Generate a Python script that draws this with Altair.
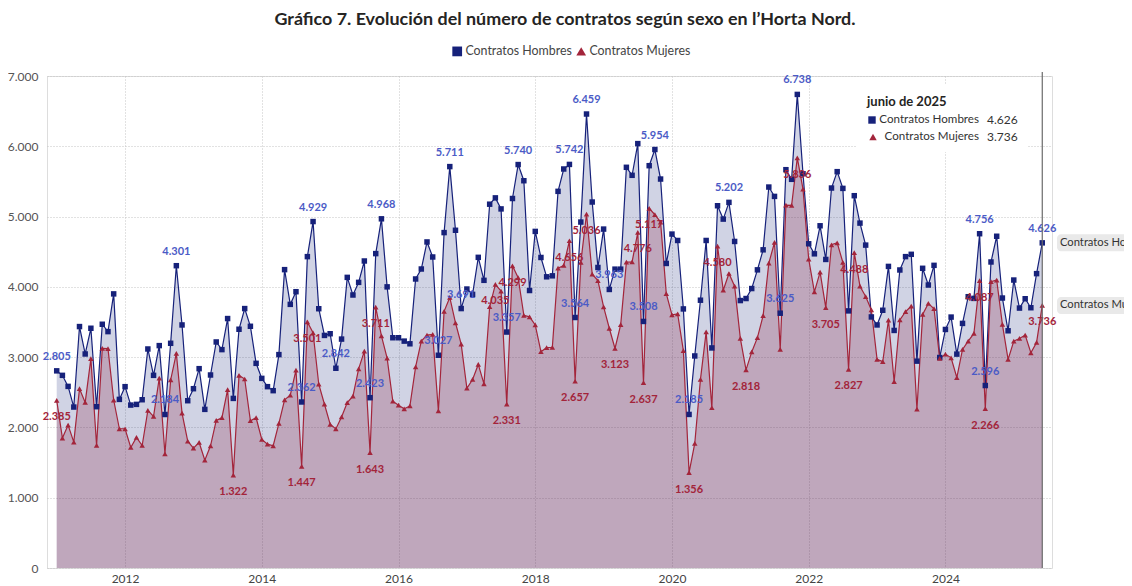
import altair as alt
import pandas as pd

# ---------------- data (monthly, enero 2011 - junio 2025) ----------------
anio_inicio = 2011
meses = ["enero", "febrero", "marzo", "abril", "mayo", "junio", "julio",
         "agosto", "septiembre", "octubre", "noviembre", "diciembre"]

hombres = [
    2805, 2741, 2584, 2290, 3435, 3045, 3411, 2295, 3468, 3363, 3900, 2399,  # 2011
    2580, 2318, 2328, 2394, 3116, 2741, 3164, 2184, 3197, 4301, 3458, 2380,  # 2012
    2551, 2836, 2257, 2746, 3216, 3107, 3549, 2413, 3397, 3691, 3439, 2912,  # 2013
    2698, 2580, 2523, 3036, 4245, 3751, 3931, 2362, 4430, 4929, 3689, 3309,  # 2014
    3333, 2842, 3257, 4135, 3884, 4064, 4368, 2423, 4473, 4968, 4000, 3276,  # 2015
    3276, 3228, 3190, 4112, 4254, 4639, 4425, 3027, 4772, 5711, 4805, 3691,  # 2016
    3969, 3893, 4420, 4093, 5176, 5266, 5109, 3357, 5257, 5740, 5510, 3948,  # 2017
    4789, 4418, 4143, 4157, 5359, 5677, 5742, 3564, 4922, 6459, 5207, 4276,  # 2018
    4822, 3963, 4252, 4252, 5701, 5587, 6038, 3508, 5724, 5954, 5534, 4333,  # 2019
    4751, 4660, 3686, 2185, 3017, 3810, 4660, 3131, 5154, 4964, 5202, 4646,  # 2020
    3805, 3834, 3976, 4242, 4527, 5420, 5287, 3625, 5667, 5530, 6738, 5610,  # 2021
    4613, 4470, 4869, 4390, 5406, 5639, 5401, 3658, 5297, 4907, 4594, 3572,  # 2022
    3458, 3667, 4291, 3380, 4240, 4430, 4463, 2943, 4264, 4026, 4306, 2995,  # 2023
    3394, 3570, 3043, 3480, 3860, 3836, 4756, 2596, 4354, 4720, 3841, 3375,  # 2024
    4097, 3698, 3831, 3703, 4188, 4626,                                      # 2025
]
mujeres = [
    2385, 1848, 2033, 1791, 2551, 2356, 2979, 1743, 3126, 3121, 2390, 1981,
    1981, 1715, 1857, 1743, 2242, 2157, 2703, 1625, 2675, 3055, 2204, 1805,
    1705, 1786, 1534, 1739, 2100, 2138, 2537, 1322, 2741, 2689, 2095, 2138,
    1829, 1762, 1739, 2057, 2392, 2458, 2815, 1447, 3501, 3347, 2615, 2330,
    2045, 1979, 2150, 2354, 2444, 2834, 3086, 1643, 3711, 3304, 2986, 2373,
    2316, 2264, 2306, 2862, 3228, 3314, 3323, 2235, 3651, 3850, 3489, 3185,
    2558, 2682, 2896, 2620, 3717, 4035, 3941, 2331, 4299, 4131, 3595, 3574,
    3458, 3078, 3135, 3140, 4266, 4304, 4656, 2657, 4347, 5036, 4181, 4090,
    3715, 3411, 3123, 3463, 4352, 4356, 4776, 2637, 5117, 5026, 4922, 3905,
    3601, 3615, 3093, 1356, 1772, 2684, 3360, 2280, 4580, 3952, 4190, 4009,
    3268, 2818, 3074, 3278, 3591, 4337, 4632, 3112, 5164, 5159, 5836, 5392,
    4394, 3929, 4209, 3705, 4599, 4627, 4347, 2827, 4488, 4009, 3862, 3672,
    2969, 2936, 3528, 2652, 3530, 3646, 3727, 2259, 3608, 3765, 3689, 2981,
    3043, 2990, 2710, 3109, 3228, 3337, 4087, 2266, 4074, 4097, 3466, 2967,
    3228, 3266, 3314, 3062, 3209, 3736,
]
# months (index from enero 2011) that carry a data label
etiquetas_h = [0, 19, 21, 43, 45, 49, 55, 57, 67, 69, 71, 79, 81, 90, 91, 93,
               97, 103, 105, 111, 118, 127, 130, 162, 163, 173]
etiquetas_m = [0, 31, 43, 44, 55, 56, 77, 79, 80, 90, 91, 93, 98, 102, 103,
               104, 111, 116, 121, 130, 135, 139, 140, 162, 163, 173]
anios_eje = [2012, 2014, 2016, 2018, 2020, 2022, 2024]
series = ["Contratos Hombres", "Contratos Mujeres"]
titulo = "Gráfico 7. Evolución del número de contratos según sexo en l’Horta Nord."

# ---------------- styling ----------------
C_H = "#16217a"
C_M = "#a3253b"
C_H_LAB = "#4b5bc6"
C_M_LAB = "#a3243a"
FONT = "Lato"

W, H = 1005, 492
PAD_L, PAD_T = 39, 68


def fmt(v):
    return f"{v:,}".replace(",", ".")


n = len(hombres)
rows = []
for i in range(n):
    t = anio_inicio + i / 12
    rows.append(dict(t=t, serie=series[0], valor=hombres[i],
                     lab=i in etiquetas_h, txt=fmt(hombres[i])))
    rows.append(dict(t=t, serie=series[1], valor=mujeres[i],
                     lab=i in etiquetas_m, txt=fmt(mujeres[i])))
df = pd.DataFrame(rows)

ult = n - 1
mes_ult = f"{meses[ult % 12]} de {anio_inicio + ult // 12}"
df_last = pd.DataFrame({
    "serie": series,
    "valor": [hombres[ult], mujeres[ult]],
    "txt": [fmt(hombres[ult]), fmt(mujeres[ult])],
    "t": [anio_inicio + ult / 12] * 2,
})

x_scale = alt.Scale(domain=[2010.858, 2025.559], nice=False, zero=False)
y_scale = alt.Scale(domain=[0, 7000], nice=False)

x_axis = alt.Axis(values=anios_eje, format="d", domain=False, ticks=False,
                  grid=True, gridDash=[1, 2], gridColor="#c4c4c4", gridWidth=1,
                  labelFont=FONT, labelFontSize=12, labelColor="#444444",
                  labelPadding=5, title=None)
y_axis = alt.Axis(values=list(range(0, 7001, 1000)),
                  labelExpr="replace(format(datum.value, ','), ',', '.')",
                  domain=False, ticks=False, grid=True, gridDash=[1, 2],
                  gridColor="#c4c4c4", gridWidth=1, labelFont=FONT,
                  labelFontSize=12, labelColor="#555555", labelPadding=9,
                  title=None)

X = alt.X("t:Q", scale=x_scale, axis=x_axis)
Y = alt.Y("valor:Q", scale=y_scale, axis=y_axis)

base = alt.Chart(df)
hom = base.transform_filter(alt.datum.serie == series[0])
muj = base.transform_filter(alt.datum.serie == series[1])

area_h = hom.mark_area(color=C_H, opacity=0.2).encode(x=X, y=Y)
area_m = muj.mark_area(color="#8c1e3e", opacity=0.24).encode(x=X, y=Y)
line_h = hom.mark_line(color=C_H, strokeWidth=1.2).encode(x=X, y=Y)
line_m = muj.mark_line(color=C_M, strokeWidth=1.2).encode(x=X, y=Y)

pts = base.mark_point(filled=True, size=30, opacity=1).encode(
    x=X, y=Y,
    color=alt.Color("serie:N", scale=alt.Scale(domain=series, range=[C_H, C_M]),
                    legend=alt.Legend(orient="none", legendX=404, legendY=-31,
                                      direction="horizontal", title=None,
                                      labelFont=FONT, labelFontSize=12.4,
                                      labelColor="#444444", symbolSize=95,
                                      columnPadding=3, labelOffset=2,
                                      padding=0, symbolStrokeWidth=0)),
    shape=alt.Shape("serie:N", scale=alt.Scale(domain=series,
                                               range=["square", "triangle-up"])),
)

lab_h = hom.transform_filter(alt.datum.lab).mark_text(
    dy=-14, font=FONT, fontSize=11, fontWeight="bold", color=C_H_LAB
).encode(x=X, y=Y, text="txt:N")
lab_m = muj.transform_filter(alt.datum.lab).mark_text(
    dy=17, font=FONT, fontSize=11, fontWeight="bold", color=C_M_LAB
).encode(x=X, y=Y, text="txt:N")

# vertical cursor at the last month
cursor = alt.Chart(df_last.head(1)).mark_rule(color="#6b6b6b", strokeWidth=1.2).encode(
    x=X, y=alt.value(-4), y2=alt.value(H)
)

# tooltip-like card
card_bg = alt.Chart(df_last.head(1)).mark_rect(color="white").encode(
    x=alt.value(810), x2=alt.value(980), y=alt.value(8), y2=alt.value(76)
)
card_title = alt.Chart(pd.DataFrame({"m": [mes_ult]})).mark_text(
    align="left", baseline="middle", font=FONT, fontSize=13, fontWeight="bold",
    color="#252423"
).encode(x=alt.value(820), y=alt.value(26), text="m:N")
card_sym_h = alt.Chart(df_last.head(1)).mark_point(
    shape="square", filled=True, size=55, color=C_H, opacity=1
).encode(x=alt.value(825), y=alt.value(44))
card_sym_m = alt.Chart(df_last.tail(1)).mark_point(
    shape="triangle-up", filled=True, size=55, color=C_M, opacity=1
).encode(x=alt.value(826), y=alt.value(61))
card_name_h = alt.Chart(df_last.head(1)).mark_text(
    align="right", baseline="middle", font=FONT, fontSize=11.6, color="#333333"
).encode(x=alt.value(932), y=alt.value(44), text="serie:N")
card_name_m = alt.Chart(df_last.tail(1)).mark_text(
    align="right", baseline="middle", font=FONT, fontSize=11.6, color="#333333"
).encode(x=alt.value(932), y=alt.value(61), text="serie:N")
card_val_h = alt.Chart(df_last.head(1)).mark_text(
    align="left", baseline="middle", font=FONT, fontSize=12, color="#333333"
).encode(x=alt.value(940), y=alt.value(44), text="txt:N")
card_val_m = alt.Chart(df_last.tail(1)).mark_text(
    align="left", baseline="middle", font=FONT, fontSize=12, color="#333333"
).encode(x=alt.value(940), y=alt.value(61), text="txt:N")

# end-of-line series labels (cut by the right edge, as in the original)
end_box = alt.Chart(df_last).mark_rect(color="#e9e9e9", cornerRadius=4, height=17).encode(
    x=alt.value(1010), x2=alt.value(1100), y=alt.Y("valor:Q", scale=y_scale, axis=y_axis)
)
end_txt = alt.Chart(df_last).mark_text(
    align="left", baseline="middle", font=FONT, fontSize=11.2, color="#333333"
).encode(x=alt.value(1013), y=alt.Y("valor:Q", scale=y_scale, axis=y_axis),
         text="serie:N")

title = alt.Chart(pd.DataFrame({"t": [titulo]})).mark_text(
    align="center", baseline="middle", font=FONT, fontSize=17.9, fontWeight="bold",
    color="#252423"
).encode(x=alt.value(518), y=alt.value(-56), text="t:N")

chart = alt.layer(
    area_h, area_m, line_h, line_m, pts, lab_h, lab_m, cursor,
    card_bg, card_title, card_sym_h, card_sym_m, card_name_h, card_name_m,
    card_val_h, card_val_m, end_box, end_txt, title
).properties(
    width=W, height=H,
    autosize=alt.AutoSizeParams(type="none"),
    padding={"left": PAD_L, "top": PAD_T, "right": 1116 - PAD_L - W, "bottom": 18},
).configure_view(stroke=None).configure(background="white")

chart.save("out.html", embed_options={"renderer": "svg", "actions": False})
